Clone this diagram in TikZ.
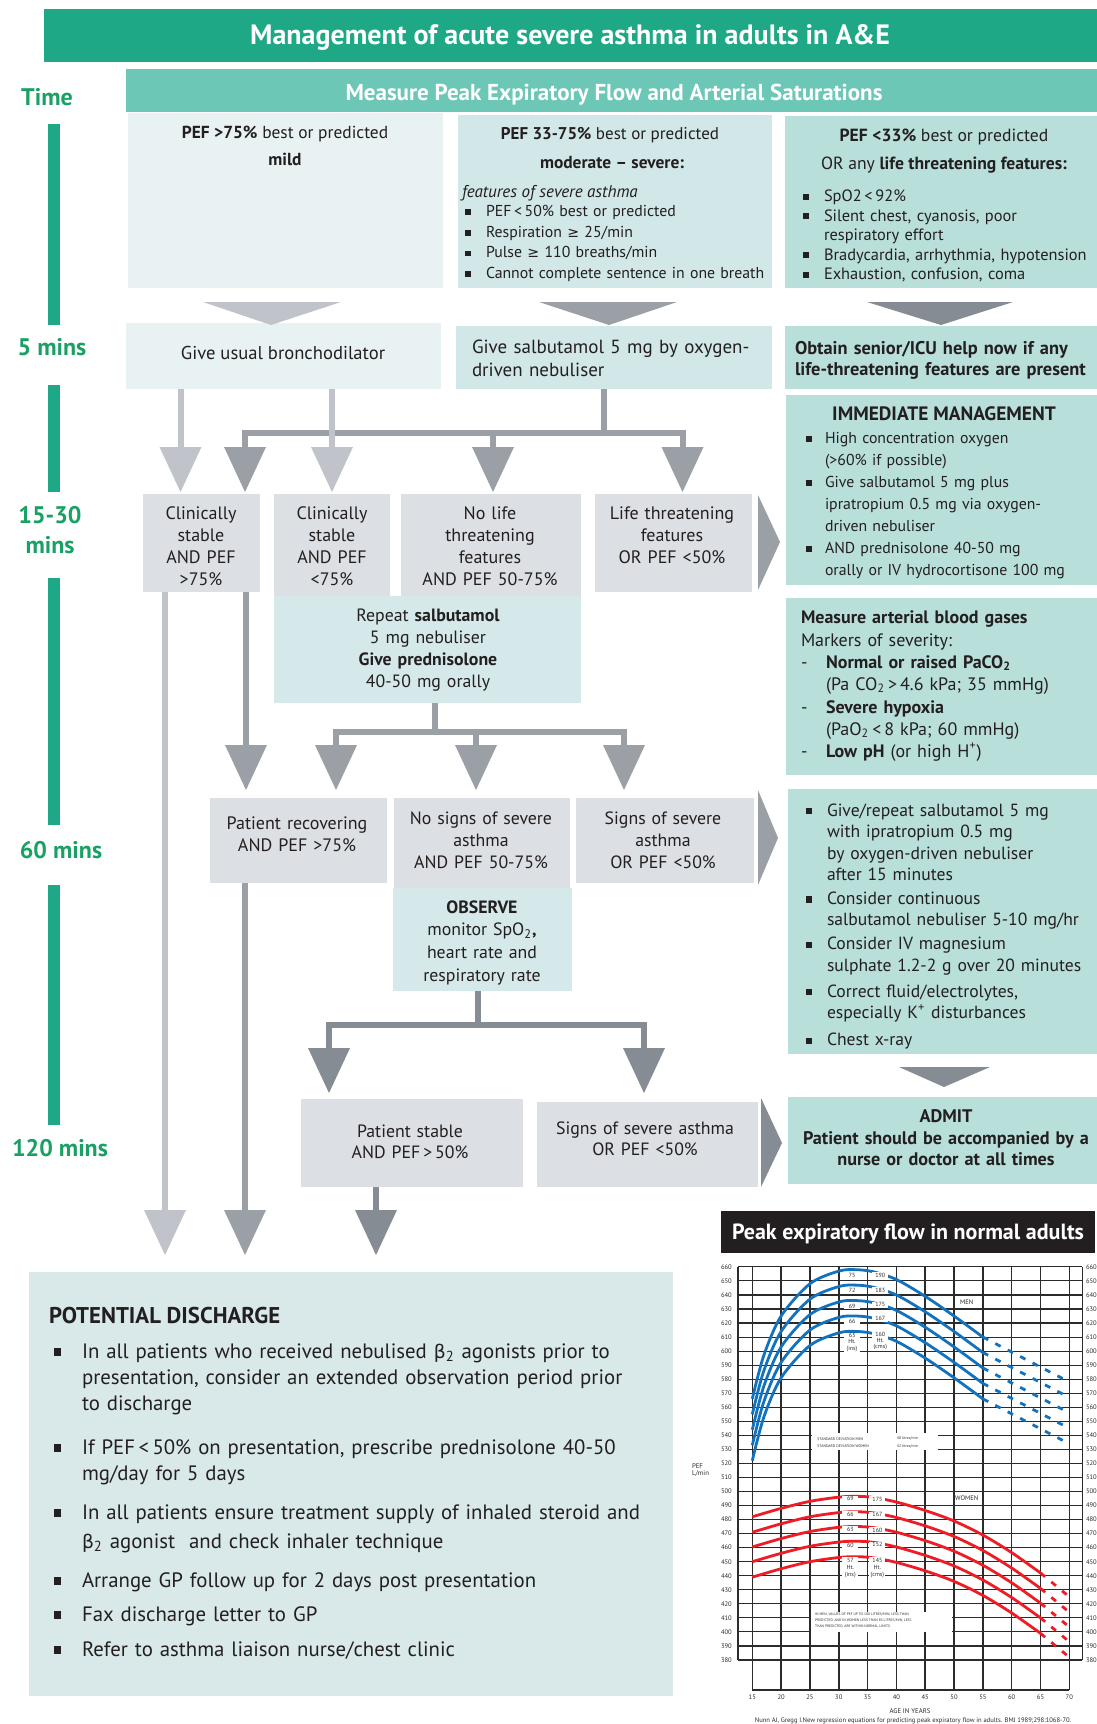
\documentclass[tikz,border=0pt]{standalone}
\usepackage{fontspec}
\setmainfont{PT Sans}
\newfontfamily\djv[Scale=0.9]{DejaVu Sans}
\usetikzlibrary{arrows.meta}
\definecolor{ttlgreen}{HTML}{1FA886}
\definecolor{msrteal}{HTML}{6CC7B6}
\definecolor{timegreen}{HTML}{1AA064}
\definecolor{pale}{HTML}{E9F2F3}
\definecolor{midteal}{HTML}{D2E7E7}
\definecolor{deepteal}{HTML}{B9DFDB}
\definecolor{greybox}{HTML}{DCDFE3}
\definecolor{repbox}{HTML}{D6E9EA}
\definecolor{disbox}{HTML}{D9E9E9}
\definecolor{alight}{HTML}{C0C4CA}
\definecolor{amid}{HTML}{9AA0A6}
\definecolor{adark}{HTML}{858C93}
\definecolor{ink}{HTML}{231F20}
\definecolor{menblue}{HTML}{1272BE}
\definecolor{womred}{HTML}{EE1C25}
\definecolor{gridc}{HTML}{2B2B2B}
\newcommand{\fsz}[2]{\fontsize{#1}{#2}\selectfont}
\newcommand{\sqb}[1]{\makebox[#1][l]{\rule[0.1em]{0.36em}{0.36em}}}
\newcommand{\gsym}{{\djv ≥}}
\newcommand{\bsym}{{\djv β}}
\newcommand{\mkbox}[6]{\node[boxst, fill=#6, minimum width={(#4-#2)*0.5pt}, minimum height={(#5-#3)*0.5pt}] (#1) at (#2,#3) {};}
\begin{document}
\begin{tikzpicture}[x=0.5pt,y=-0.5pt,
  boxst/.style={inner sep=0pt,outer sep=0pt,anchor=north west,draw=none},
  tx/.style={inner sep=0pt,outer sep=0pt,text=ink},
  tc/.style={tx,anchor=base,align=center},
  tl/.style={tx,anchor=base west,align=left},
  tmlbl/.style={tx,anchor=base,text=timegreen,font=\fsz{12}{14}\bfseries},
  conn/.style={line width=3pt},
  lineL/.style={conn,draw=alight},
  lineM/.style={conn,draw=amid},
  lineD/.style={conn,draw=adark},
  tipd/.style={-{Triangle[width=21pt,length=22.5pt,line width=0pt]}},
  gridh/.style={draw=gridc,line width=0.55pt},
  gridv/.style={draw=gridc,line width=0.8pt},
  menc/.style={draw=menblue,line width=1.4pt},
  womc/.style={draw=womred,line width=1.4pt},
  dsh/.style={dash pattern=on 3pt off 4pt},
  tklbl/.style={tx,text=gridc,font=\fsz{3.3}{4}},
  clab/.style={inner sep=0.4pt,fill=white,text=gridc,font=\fsz{3}{3.1},minimum width=8pt,align=center}
]
\fill[white] (0,0) rectangle (1097,1724);
\useasboundingbox (0,0) rectangle (1097,1724);

% ---------- header ----------
\mkbox{ttlbar}{44}{9}{1097}{62}{ttlgreen}
\node[tx,text=white,anchor=base,font=\fsz{14}{16}\bfseries] (ttl) at (570,44.5) {Management of acute severe asthma in adults in A\&E};
\mkbox{msrbar}{126}{69}{1097}{112}{msrteal}
\node[tx,text=white,anchor=base,font=\fsz{11.5}{13}\bfseries] (msr) at (614,100) {Measure Peak Expiratory Flow and Arterial Saturations};

% ---------- time axis ----------
\node[tmlbl] (time) at (47,105) {Time};
\fill[ttlgreen] (48,124) rectangle (60,325);
\fill[ttlgreen] (48,385) rectangle (60,492);
\fill[ttlgreen] (48,578) rectangle (60,825);
\fill[ttlgreen] (48,885) rectangle (60,1125);
\node[tmlbl] (t5) at (52,355) {5 mins};
\node[tmlbl] (t15a) at (50,523) {15-30};
\node[tmlbl] (t15b) at (50,553) {mins};
\node[tmlbl] (t60) at (61,858) {60 mins};
\node[tmlbl] (t120) at (60,1156) {120 mins};

% ---------- severity boxes ----------
\mkbox{mild}{128}{113}{443}{288}{pale}
\mkbox{mods}{458}{115}{772}{288}{midteal}
\mkbox{lifet}{785}{116}{1097}{288}{deepteal}
\node[tc,font=\fsz{8.7}{10}] (m1) at (285,138) {\textbf{PEF >75\%} best or predicted};
\node[tc,font=\fsz{8.7}{10}\bfseries] (m2) at (285,165.5) {mild};
\node[tc,font=\fsz{8.5}{10}] (s1) at (610,139) {\textbf{PEF 33-75\%} best or predicted};
\node[tc,font=\fsz{8.7}{10}\bfseries] (s2) at (612,168) {moderate -- severe:};
\node[tl,font=\fsz{8.5}{10}\itshape] (s3) at (462,197) {features of severe asthma};
\node[tl,text width=160pt,font=\fsz{7.9}{10.35}] (s4) at (465,216.5) {\sqb{10.5pt}PEF\,<\,50\% best or predicted\\\sqb{10.5pt}Respiration \gsym\ 25/min\\\sqb{10.5pt}Pulse \gsym\ 110 breaths/min\\\sqb{10.5pt}Cannot complete sentence in one breath};
\node[tc,font=\fsz{8.8}{10}] (l1) at (944,141) {\textbf{PEF <33\%} best or predicted};
\node[tc,font=\fsz{8.8}{10}] (l2) at (944,169) {OR any \textbf{life threatening features:}};
\node[tl,text width=150pt,font=\fsz{8.2}{9.75}] (l3) at (803,201.5) {\sqb{10.5pt}SpO2\,<\,92\%\\\sqb{10.5pt}Silent chest, cyanosis, poor\\\hspace*{10.5pt}respiratory effort\\\sqb{10.5pt}Bradycardia, arrhythmia, hypotension\\\sqb{10.5pt}Exhaustion, confusion, coma};

% ---------- 5 mins row ----------
\mkbox{bro}{126}{323}{441}{389}{pale}
\mkbox{salb}{456}{326}{772}{389}{midteal}
\mkbox{senior}{785}{326}{1097}{389}{deepteal}
\node[tc,font=\fsz{9.3}{10}] (brot) at (283,359.5) {Give usual bronchodilator};
\node[tl,text width=170pt,font=\fsz{9.5}{11.5}] (salbt) at (472,353.5) {Give salbutamol 5 mg by oxygen-\\driven nebuliser};
\node[tl,text width=170pt,font=\fsz{9.2}{10.5}\bfseries] (sent) at (795,354.5) {Obtain senior/ICU help now if any\\life-threatening features are present};
\fill[alight] (203,302) -- (341,302) -- (271,325) -- cycle;
\fill[amid] (539,302) -- (677,302) -- (609,325) -- cycle;
\fill[adark] (867,302) -- (1013,302) -- (941,325) -- cycle;

% ---------- immediate management ----------
\mkbox{imm}{786}{395}{1097}{585}{deepteal}
\node[tc,font=\fsz{9.7}{11}\bfseries] (immt) at (944,420) {IMMEDIATE MANAGEMENT};
\node[tl,text width=150pt,font=\fsz{7.9}{11}] (imml) at (806,443.5) {\sqb{9.5pt}High concentration oxygen\\\hspace*{9.5pt}(>60\% if possible)\\\sqb{9.5pt}Give salbutamol 5 mg plus\\\hspace*{9.5pt}ipratropium 0.5 mg via oxygen-\\\hspace*{9.5pt}driven nebuliser\\\sqb{9.5pt}AND prednisolone 40-50 mg\\\hspace*{9.5pt}orally or IV hydrocortisone 100 mg};

% ---------- 15-30 mins row ----------
\mkbox{csA}{143}{494}{260}{592}{greybox}
\mkbox{csB}{274}{494}{390}{596}{greybox}
\mkbox{nolt}{401}{494}{581}{596}{greybox}
\mkbox{ltf}{595}{494}{752}{592}{greybox}
\mkbox{rep}{274}{596}{581}{703}{repbox}
\node[tc,text width=60pt,font=\fsz{9}{11}] (csAt) at (201,519) {Clinically\\stable\\AND PEF\\>75\%};
\node[tc,text width=60pt,font=\fsz{9}{11}] (csBt) at (332,519) {Clinically\\stable\\AND PEF\\<75\%};
\node[tc,text width=90pt,font=\fsz{9}{11}] (noltt) at (490,519) {No life\\threatening\\features\\AND PEF 50-75\%};
\node[tc,text width=80pt,font=\fsz{9}{11}] (ltft) at (672,519) {Life threatening\\features\\OR PEF <50\%};
\node[tc,text width=150pt,font=\fsz{8.9}{11}] (rept) at (428,621) {Repeat \textbf{salbutamol}\\5 mg nebuliser\\\textbf{Give prednisolone}\\40-50 mg orally};
\fill[amid] (758,495) -- (780,542) -- (758,590) -- cycle;

% ---------- arterial blood gases ----------
\mkbox{abg}{786}{598}{1097}{775}{deepteal}
\node[tl,text width=150pt,font=\fsz{9}{11}] (abgt) at (801,623) {\textbf{Measure arterial blood gases}\\[0.8pt]Markers of severity:\\\makebox[12.5pt][l]{-}\textbf{Normal or raised PaCO\textsubscript{2}}\\\hspace*{12.5pt}(Pa CO\textsubscript{2}\,>\,4.6 kPa; 35 mmHg)\\[0.5pt]\makebox[12.5pt][l]{-}\textbf{Severe hypoxia}\\\hspace*{12.5pt}(PaO\textsubscript{2}\,<\,8 kPa; 60 mmHg)\\\makebox[12.5pt][l]{-}\textbf{Low pH} (or high H\textsuperscript{+})};

% ---------- 60 mins row ----------
\mkbox{prec}{210}{798}{387}{883}{greybox}
\mkbox{nosev}{394}{798}{570}{888}{greybox}
\mkbox{sev}{576}{798}{754}{883}{greybox}
\mkbox{obs}{393}{888}{572}{991}{repbox}
\mkbox{give}{788}{789}{1097}{1054}{deepteal}
\node[tc,text width=90pt,font=\fsz{9}{11}] (prect) at (297,829) {Patient recovering\\AND PEF >75\%};
\node[tc,text width=90pt,font=\fsz{8.9}{11}] (nosevt) at (481,824) {No signs of severe\\asthma\\AND PEF 50-75\%};
\node[tc,text width=90pt,font=\fsz{8.9}{11}] (sevt) at (663,824) {Signs of severe\\asthma\\OR PEF <50\%};
\node[tc,text width=90pt,font=\fsz{8.9}{11.35}] (obst) at (482,913) {\textbf{OBSERVE}\\monitor SpO\textsubscript{2}\textbf{,}\\heart rate and\\respiratory rate};
\node[tl,text width=150pt,font=\fsz{8.8}{10.75}] (givet) at (806,816) {\sqb{10.5pt}Give/repeat salbutamol 5 mg\\\hspace*{10.5pt}with ipratropium 0.5 mg\\\hspace*{10.5pt}by oxygen-driven nebuliser\\\hspace*{10.5pt}after 15 minutes\\[1.2pt]\sqb{10.5pt}Consider continuous\\\hspace*{10.5pt}salbutamol nebuliser 5-10 mg/hr\\[1.2pt]\sqb{10.5pt}Consider IV magnesium\\\hspace*{10.5pt}sulphate 1.2-2 g over 20 minutes\\[2.2pt]\sqb{10.5pt}Correct fluid/electrolytes,\\\hspace*{10.5pt}especially K\textsuperscript{+} disturbances\\[2.7pt]\sqb{10.5pt}Chest x-ray};
\fill[amid] (758,790) -- (778,838) -- (758,885) -- cycle;

% ---------- 120 mins row ----------
\mkbox{pst}{301}{1099}{523}{1187}{greybox}
\mkbox{sev2}{537}{1102}{758}{1187}{greybox}
\mkbox{admit}{788}{1097}{1097}{1184}{deepteal}
\node[tc,text width=100pt,font=\fsz{8.9}{10.5}] (pstt) at (410,1137.5) {Patient stable\\AND PEF\,>\,50\%};
\node[tc,text width=110pt,font=\fsz{8.9}{10.5}] (sev2t) at (645,1134.5) {Signs of severe asthma\\OR PEF <50\%};
\node[tc,text width=160pt,font=\fsz{9.1}{10.75}\bfseries] (admitt) at (946,1122.5) {ADMIT\\Patient should be accompanied by a\\nurse or doctor at all times};
\fill[adark] (761,1098) -- (782,1143) -- (761,1187) -- cycle;
\fill[adark] (899,1067) -- (990,1067) -- (944,1087) -- cycle;

% ---------- discharge ----------
\mkbox{dis}{29}{1272}{673}{1696}{disbox}
\node[tl,font=\fsz{11.4}{13}\bfseries] (dist) at (49,1323.5) {POTENTIAL DISCHARGE};
\node[tl,text width=320pt,font=\fsz{10.4}{13}] (disl) at (54,1358) {\sqb{14pt}In all patients who received nebulised \bsym\textsubscript{2} agonists prior to\\\hspace*{14pt}presentation, consider an extended observation period prior\\\hspace*{14pt}to discharge\\[9pt]\sqb{14pt}If PEF\,<\,50\% on presentation, prescribe prednisolone 40-50\\\hspace*{14pt}mg/day for 5 days\\[6.5pt]\sqb{14pt}In all patients ensure treatment supply of inhaled steroid and\\[1.5pt]\hspace*{14pt}\bsym\textsubscript{2} agonist\ \ and check inhaler technique\\[6.5pt]\sqb{14pt}Arrange GP follow up for 2 days post presentation\\[4pt]\sqb{14pt}Fax discharge letter to GP\\[4.5pt]\sqb{14pt}Refer to asthma liaison nurse/chest clinic};

% ---------- connectors ----------
\draw[lineM] (salb.south -| 604,0) -- (604,436);
\draw[lineM] (242,433) -- (685.5,433);
\draw[lineM,tipd,shorten >=1pt] (245,430) -- (csA.north -| 245,0);
\draw[lineM,tipd,shorten >=1pt] (493,430) -- (nolt.north -| 493,0);
\draw[lineM,tipd,shorten >=1pt] (682.5,430) -- (ltf.north -| 682.5,0);
\draw[lineL,tipd,shorten >=1pt] (bro.south -| 180.5,0) -- (csA.north -| 180.5,0);
\draw[lineL,tipd,shorten >=1pt] (bro.south -| 332,0) -- (csB.north -| 332,0);

\draw[lineM,tipd,shorten >=4pt] (csA.south -| 246,0) -- (prec.north -| 246,0);
\draw[lineM] (rep.south -| 435,0) -- (435,735);
\draw[lineM] (333,732) -- (627,732);
\draw[lineM,tipd,shorten >=4pt] (336,729) -- (prec.north -| 336,0);
\draw[lineM,tipd,shorten >=4pt] (476,729) -- (nosev.north -| 476,0);
\draw[lineM,tipd,shorten >=4pt] (624,729) -- (sev.north -| 624,0);

\draw[lineD] (obs.south -| 478,0) -- (478,1028);
\draw[lineD] (326,1025) -- (647,1025);
\draw[lineD,tipd,shorten >=3pt] (329,1022) -- (pst.north -| 329,0);
\draw[lineD,tipd,shorten >=4.5pt] (644,1022) -- (sev2.north -| 644,0);

\draw[lineL,tipd,shorten >=8.5pt] (csA.south -| 165,0) -- (dis.north -| 165,0);
\draw[lineM,tipd,shorten >=8.5pt] (prec.south -| 245,0) -- (dis.north -| 245,0);
\draw[lineD,tipd,shorten >=8.5pt] (pst.south -| 376,0) -- (dis.north -| 376,0);

% ---------- PEF chart ----------
\mkbox{pefbar}{721}{1211}{1095}{1253}{ink}
\node[tx,text=white,anchor=base,font=\fsz{11}{12}\bfseries] (peft) at (908,1239.5) {Peak expiratory flow in normal adults};
\node[tx,anchor=west,text=gridc,font=\fsz{3.4}{4}] (pefl) at (692,1466) {PEF};
\node[tx,anchor=west,text=gridc,font=\fsz{3.4}{4}] (lmin) at (692,1474) {L/min};
\node[tx,text=gridc,font=\fsz{3.4}{4}] (agey) at (910,1711) {AGE IN YEARS};
\node[tx,text=gridc,font=\fsz{3.3}{4}] (cite) at (913,1720.5) {Nunn AJ, Gregg I.New regression equations for predicting peak expiratory flow in adults. BMJ 1989;298:1068-70.};
\begin{scope}[shift={(665.84,2193.5)},x=2.882pt,y=0.702pt]
\foreach \v in {380,390,...,660} {\draw[gridh] (12.52,\v) -- (72.22,\v);}
\foreach \a in {15,20,...,70} {\draw[gridv] (\a,660) -- (\a,358.6);}
\draw[gridh] (12.52,380) -- (12.52,660) (72.22,380) -- (72.22,660);
\draw[gridv] (15,358.6) -- (70,358.6);
\foreach \v in {380,390,...,660} {\node[tklbl,anchor=east] (yl\v) at (11.45,\v) {\v}; \node[tklbl,anchor=west] (yr\v) at (72.9,\v) {\v};}
\foreach \a in {15,20,...,70} {\node[tklbl] (ag\a) at (\a,353.6) {\a};}
\fill[white] (25.4,529.3) rectangle (47.3,541.5);
\fill[white] (25.1,400) rectangle (49.7,414.2);
\node[tx,anchor=west,text=gridc,font=\fsz{1.9}{2.2}] (sdm) at (26.3,537.6) {STANDARD DEVIATION MEN};
\node[tx,anchor=west,text=gridc,font=\fsz{1.9}{2.2}] (sdw) at (26.3,532.4) {STANDARD DEVIATION WOMEN};
\node[tx,anchor=west,text=gridc,font=\fsz{1.9}{2.2}] (sdm2) at (40.1,537.6) {48 litres/min};
\node[tx,anchor=west,text=gridc,font=\fsz{1.9}{2.2}] (sdw2) at (40.1,532.4) {42 litres/min};
\node[tx,anchor=north west,align=left,text=gridc,font=\fsz{1.8}{3}] (note) at (25.9,413.2) {IN MEN, VALUES OF PEF UP TO 100 LITRES/MIN, LESS THAN\\PREDICTED, AND IN WOMEN LESS THAN 85 LITRES/MIN, LESS\\THAN PREDICTED, ARE WITHIN NORMAL LIMITS.};
\foreach \d in {0,11,22,33,44} {
  \draw[menc] plot[smooth] coordinates {(15,{566-\d}) (17,{597-\d}) (20,{625-\d}) (25,{648-\d}) (30,{657-\d}) (33,{658-\d}) (36,{656.5-\d}) (40,{651-\d}) (45,{639-\d}) (50,{625-\d}) (55,{610-\d})};
  \draw[menc,dsh] (55,{610-\d}) -- (70,{578-\d});
}
\foreach \d in {0,11,21.5,32,43} {
  \draw[womc] plot[smooth] coordinates {(15,{482-\d}) (20,{488-\d}) (25,{493-\d}) (30,{496-\d}) (33,{496.6-\d}) (36,{495.8-\d}) (40,{492.5-\d}) (45,{486.5-\d}) (50,{479-\d}) (55,{469-\d}) (60,{456.5-\d}) (65,{442-\d})};
  \draw[womc,dsh] (65,{442-\d}) -- (70,{425-\d});
}
\node[clab] (ml1) at (32.3,654) {75};
\node[clab] (ml2) at (32.3,643) {72};
\node[clab] (ml3) at (32.3,632) {69};
\node[clab] (ml4) at (32.3,621) {66};
\node[clab] (ml5) at (32.3,606.2) {63\\Ht.\\(ins)};
\node[clab] (mr1) at (37.2,654) {190};
\node[clab] (mr2) at (37.2,643.5) {183};
\node[clab] (mr3) at (37.2,633) {175};
\node[clab] (mr4) at (37.2,623) {167};
\node[clab] (mr5) at (37.2,607.4) {160\\Ht.\\(cms)};
\node[clab] (wl1) at (32,495) {69};
\node[clab] (wl2) at (32,484) {66};
\node[clab] (wl3) at (32,473) {63};
\node[clab] (wl4) at (32,461.4) {60};
\node[clab,font=\fsz{3}{3.6}] (wl5) at (32,445.4) {57\\Ht.\\(ins)};
\node[clab] (wr1) at (36.7,494.4) {175};
\node[clab] (wr2) at (36.7,483.5) {167};
\node[clab] (wr3) at (36.7,472.4) {160};
\node[clab] (wr4) at (36.7,462) {152};
\node[clab,font=\fsz{3}{3.6}] (wr5) at (36.7,445.4) {145\\Ht.\\(cms)};
\node[tx,text=gridc,font=\fsz{3.3}{4}] (menl) at (52.2,635) {MEN};
\node[tx,text=gridc,font=\fsz{3.3}{4}] (woml) at (52.2,495) {WOMEN};
\end{scope}
\end{tikzpicture}
\end{document}
